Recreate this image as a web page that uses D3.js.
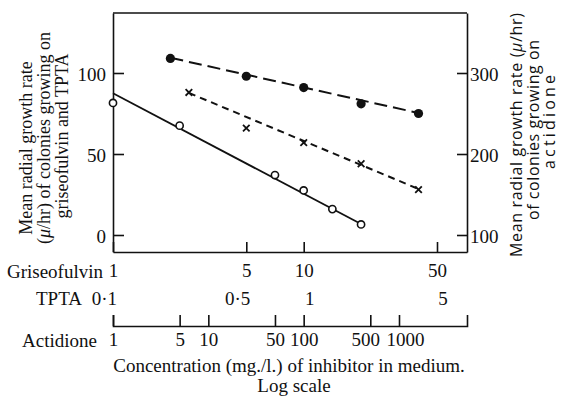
<!DOCTYPE html>
<html lang="en">
<head>
    <meta charset="UTF-8">
    <title>Growth rate vs inhibitor concentration</title>
    <style>
        body {
            margin: 0;
            padding: 0;
            background: #fff;
        }

        svg {
            display: block;
        }

        .serif {
            font-family: 'Liberation Serif', 'Times New Roman', serif;
            fill: #111;
        }

        .sans {
            font-family: 'Open Sans', 'DejaVu Sans', sans-serif;
            fill: #111;
        }

        .axis path, .axis line {
            stroke: #111;
            stroke-width: 1.6;
            fill: none;
        }

        .axis text {
            font-family: 'Liberation Serif', 'Times New Roman', serif;
            font-size: 19px;
            fill: #111;
        }
    </style>
</head>
<body>

<svg id="chart" width="565" height="397"></svg>

<script src="https://d3js.org/d3.v7.min.js"></script>
<script>
    // Griseofulvin (filled circles, left axis)
    const grisConc = [2, 5, 10, 20, 40];
    const grisRate = [109, 98, 91, 81, 75];
    const grisFit = [[2, 109.4], [40, 75.3]];

    // TPTA (crosses, left axis)
    const tptaConc = [0.25, 0.5, 1, 2, 4];
    const tptaRate = [88, 66, 57, 44, 28];
    const tptaFit = [[0.25, 87.7], [4, 28.4]];

    // Actidione (open circles, right axis)
    const actConc = [1, 5, 50, 100, 200, 400];
    const actRate = [263, 235, 174, 155, 132, 113];
    const actFit = [[1, 275], [400, 113.6]];

    // tick labels
    const leftTicks = [0, 50, 100];
    const rightTicks = [100, 200, 300];
    const grisTicks = [1, 5, 10, 50];
    const tptaTicks = [0.1, 0.5, 1, 5];
    const actTicks = [1, 5, 10, 50, 100, 500, 1000];

    const svg = d3.select("#chart");

    const plotLeft = 113, plotRight = 467, plotTop = 13, plotBottom = 252;

    // scales
    const xGris = d3.scaleLog().domain([1, 50]).range([113, 437]);
    const xTpta = d3.scaleLog().domain([0.1, 5]).range([113, 437]);
    const xAct = d3.scaleLog().domain([1, 1000]).range([113, 399]);
    const yLeft = d3.scaleLinear().domain([0, 100]).range([235, 73]);
    const yRight = d3.scaleLinear().domain([100, 300]).range([235, 73]);

    const fmt = d => String(d).replace(".", "\u00b7");

    // top border
    svg.append("line")
        .attr("x1", plotLeft).attr("x2", plotRight)
        .attr("y1", plotTop).attr("y2", plotTop)
        .attr("stroke", "#111").attr("stroke-width", 1.6);

    // left axis
    const yLeftAxis = yLeft.copy()
        .domain([yLeft.invert(plotBottom), yLeft.invert(plotTop)])
        .range([plotBottom, plotTop]);
    svg.append("g")
        .attr("class", "axis")
        .attr("transform", `translate(${plotLeft},0)`)
        .call(d3.axisLeft(yLeftAxis).tickValues(leftTicks).tickSize(-11).tickSizeOuter(0).tickPadding(7))
        .call(g => g.selectAll("text").attr("dy", "0.4em"));

    // right axis
    const yRightAxis = yRight.copy()
        .domain([yRight.invert(plotBottom), yRight.invert(plotTop)])
        .range([plotBottom, plotTop]);
    svg.append("g")
        .attr("class", "axis")
        .attr("transform", `translate(${plotRight},0)`)
        .call(d3.axisRight(yRightAxis).tickValues(rightTicks).tickSize(-10).tickSizeOuter(0).tickPadding(3))
        .call(g => g.selectAll("text").attr("dy", "0.4em"));

    // griseofulvin axis (bottom of frame)
    const xGrisAxis = xGris.copy().domain([1, xGris.invert(plotRight)]).range([plotLeft, plotRight]);
    svg.append("g")
        .attr("class", "axis")
        .attr("transform", `translate(0,${plotBottom})`)
        .call(d3.axisBottom(xGrisAxis).tickValues(grisTicks).tickFormat(d3.format("d"))
            .tickSize(-10).tickSizeOuter(0).tickPadding(12));

    // TPTA labels row
    const tpta = svg.append("g")
        .attr("class", "axis")
        .attr("transform", "translate(0,305)");
    tpta.selectAll("text")
        .data(tptaTicks)
        .join("text")
        .attr("x", d => xTpta(d) + (d < 1 ? 4 : 6))
        .attr("text-anchor", d => d < 1 ? "end" : "middle")
        .text(fmt);

    // actidione axis
    const actShift = { 500: -5, 1000: 6 };
    const xActAxis = xAct.copy().domain([1, xAct.invert(plotRight)]).range([plotLeft, plotRight]);
    svg.append("g")
        .attr("class", "axis")
        .attr("transform", "translate(0,326)")
        .call(d3.axisBottom(xActAxis).tickValues(actTicks).tickFormat(d3.format("d"))
            .tickSize(-11).tickSizeOuter(-11).tickPadding(7))
        .call(g => g.selectAll(".tick text")
            .attr("font-size", 18)
            .attr("dx", d => actShift[d] || 0));

    // row names
    svg.append("text").attr("class", "serif").attr("font-size", 19)
        .attr("x", 103).attr("y", 278).attr("text-anchor", "end").text("Griseofulvin");
    svg.append("text").attr("class", "serif").attr("font-size", 19)
        .attr("x", 82).attr("y", 305).attr("text-anchor", "end").text("TPTA");
    svg.append("text").attr("class", "serif").attr("font-size", 19)
        .attr("x", 97).attr("y", 347).attr("text-anchor", "end").text("Actidione");

    svg.append("text").attr("class", "serif").attr("font-size", 19)
        .attr("x", 289).attr("y", 372).attr("text-anchor", "middle")
        .text("Concentration (mg./l.) of inhibitor in medium.");
    svg.append("text").attr("class", "serif").attr("font-size", 19)
        .attr("x", 294).attr("y", 392).attr("text-anchor", "middle")
        .text("Log scale");

    // left title
    const leftTitle = [
        { x: 26, cy: 148, parts: [["Mean radial growth rate", false]] },
        { x: 44, cy: 138, parts: [["(", false], ["\u03bc", true], ["/hr) of colonies growing on", false]] },
        { x: 62, cy: 136, parts: [["griseofulvin and TPTA", false]] }
    ];
    leftTitle.forEach(l => {
        const t = svg.append("text").attr("class", "serif").attr("font-size", 18)
            .attr("text-anchor", "middle")
            .attr("transform", `translate(${l.x + 6},${l.cy}) rotate(-90)`);
        l.parts.forEach(p => t.append("tspan").attr("font-style", p[1] ? "italic" : null).text(p[0]));
    });

    // right title
    const rightTitle = [
        { x: 517, cy: 135, len: 244, parts: [["Mean radial growth rate (", false], ["\u03bc", true], ["/hr)", false]] },
        { x: 534, cy: 130, len: 180, parts: [["of colonies growing on", false]] },
        { x: 550, cy: 122, len: 94, parts: [["actidione", false]] }
    ];
    rightTitle.forEach(l => {
        const t = svg.append("text").attr("class", "sans").attr("font-size", 16)
            .attr("text-anchor", "middle")
            .attr("textLength", l.len)
            .attr("lengthAdjust", "spacing")
            .attr("transform", `translate(${l.x + 5},${l.cy}) rotate(-90)`);
        l.parts.forEach(p => t.append("tspan").attr("font-style", p[1] ? "italic" : null).text(p[0]));
    });

    // fit lines
    const line = d3.line();
    svg.append("path")
        .attr("d", line(grisFit.map(d => [xGris(d[0]), yLeft(d[1])])))
        .attr("fill", "none").attr("stroke", "#111").attr("stroke-width", 2)
        .attr("stroke-dasharray", "13,6");
    svg.append("path")
        .attr("d", line(tptaFit.map(d => [xTpta(d[0]), yLeft(d[1])])))
        .attr("fill", "none").attr("stroke", "#111").attr("stroke-width", 2)
        .attr("stroke-dasharray", "7,5");
    svg.append("path")
        .attr("d", line(actFit.map(d => [xAct(d[0]), yRight(d[1])])))
        .attr("fill", "none").attr("stroke", "#111").attr("stroke-width", 1.8);

    // markers
    svg.append("g").selectAll("circle")
        .data(d3.zip(grisConc, grisRate))
        .join("circle")
        .attr("cx", d => xGris(d[0]))
        .attr("cy", d => yLeft(d[1]))
        .attr("r", 4.6)
        .attr("fill", "#111");

    svg.append("g").selectAll("circle")
        .data(d3.zip(actConc, actRate))
        .join("circle")
        .attr("cx", d => xAct(d[0]))
        .attr("cy", d => yRight(d[1]))
        .attr("r", 3.6)
        .attr("fill", "#fff")
        .attr("stroke", "#111")
        .attr("stroke-width", 1.6);

    const s = 3.3;
    svg.append("g").selectAll("path")
        .data(d3.zip(tptaConc, tptaRate))
        .join("path")
        .attr("transform", d => `translate(${xTpta(d[0])},${yLeft(d[1])})`)
        .attr("d", `M${-s},${-s}L${s},${s}M${-s},${s}L${s},${-s}`)
        .attr("stroke", "#111")
        .attr("stroke-width", 1.8);
</script>

</body>
</html>
